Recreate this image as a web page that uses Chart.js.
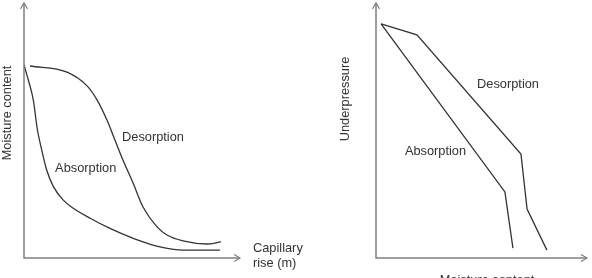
<!DOCTYPE html>
<html>
<head>
<meta charset="utf-8">
<script src="https://cdn.jsdelivr.net/npm/chart.js@4.4.0/dist/chart.umd.min.js"></script>
<style>
  html, body { margin: 0; padding: 0; background: #fff; }
  .wrap { position: relative; width: 592px; height: 278px; overflow: hidden; }
  #left { position: absolute; left: 0; top: 0; }
  #right { position: absolute; left: 296px; top: 0; }
</style>
</head>
<body>
<div class="wrap">
  <canvas id="right"></canvas>
  <canvas id="left"></canvas>
</div>
<script>
// ---- left panel: moisture content vs capillary rise (arbitrary units 0..100) ----
const desCapX = [2.8, 19.9, 29.2, 33.8, 38.4, 42.1, 45.8, 50.5, 55.1, 61.6, 66.2, 73.6, 84.7, 91.2];
const desCapY = [75.3, 72.9, 67.5, 62.0, 54.1, 46.3, 38.4, 29.4, 20.0, 12.2, 9.0, 6.7, 5.5, 6.3];
const absCapX = [0, 2.0, 4.3, 6.2, 8.2, 10.5, 13.6, 18.2, 22.8, 30.6, 39.8, 50.6, 61.4, 73.8, 90.7];
const absCapY = [75.7, 69.8, 62.0, 50.3, 42.4, 34.5, 28.0, 22.7, 19.5, 15.6, 11.6, 7.7, 4.7, 3.1, 3.1];

// ---- right panel: underpressure vs moisture content ----
const desUpX = [2.4, 19.4, 68.7, 71.6, 81.0];
const desUpY = [91.8, 87.5, 40.8, 19.2, 3.1];
const absUpX = [2.4, 61.1, 64.9];
const absUpY = [91.8, 25.9, 3.9];

const FONT = '12.8px "Liberation Sans", Arial, sans-serif';
const INK = '#333';
const AXIS = '#808080';

const pts = (xs, ys) => xs.map((x, i) => ({ x, y: ys[i] }));

// axes with open arrow heads + free text labels
function axesPlugin(labels) {
    return {
        id: 'axes',
        afterDraw(chart) {
            const { ctx, chartArea: a, scales } = chart;
            ctx.save();
            ctx.strokeStyle = AXIS; ctx.lineWidth = 1.5;
            ctx.beginPath();
            ctx.moveTo(a.left, a.top); ctx.lineTo(a.left, a.bottom); ctx.lineTo(a.right, a.bottom);
            ctx.stroke();
            ctx.lineWidth = 1.2;
            ctx.beginPath();
            ctx.moveTo(a.left - 3.5, a.top + 6); ctx.lineTo(a.left, a.top); ctx.lineTo(a.left + 3.5, a.top + 6);
            ctx.moveTo(a.right - 6, a.bottom - 3.5); ctx.lineTo(a.right, a.bottom); ctx.lineTo(a.right - 6, a.bottom + 3.5);
            ctx.stroke();

            ctx.fillStyle = INK; ctx.font = FONT; ctx.textBaseline = 'middle';
            labels.forEach(l => {
                let x = l.px, y = l.py;
                if (l.dx !== undefined) { x = scales.x.getPixelForValue(l.dx); y = scales.y.getPixelForValue(l.dy); }
                ctx.save();
                ctx.translate(x, y);
                if (l.rot) ctx.rotate(-Math.PI / 2);
                ctx.textAlign = l.align || 'left';
                ctx.fillText(l.text, 0, 0);
                ctx.restore();
            });
            ctx.restore();
        }
    };
}

function makeChart(id, w, sets, pad, labels, smooth) {
    const c = document.getElementById(id);
    c.width = w; c.height = 278;
    c.style.width = w + 'px'; c.style.height = '278px';
    return new Chart(c, {
        type: 'line',
        data: {
            datasets: sets.map(s => ({
                data: s,
                borderColor: INK,
                borderWidth: 1.3,
                pointRadius: 0,
                fill: false,
                cubicInterpolationMode: smooth ? 'monotone' : 'default',
                tension: 0
            }))
        },
        options: {
            responsive: false,
            animation: false,
            layout: { padding: pad },
            plugins: { legend: { display: false }, tooltip: { enabled: false } },
            scales: {
                x: { type: 'linear', min: 0, max: 100, display: false },
                y: { type: 'linear', min: 0, max: 100, display: false }
            }
        },
        plugins: [axesPlugin(labels)]
    });
}

makeChart('left', 330,
    [pts(desCapX, desCapY), pts(absCapX, absCapY)],
    { left: 24, right: 90, top: 3, bottom: 20 },
    [
        { text: 'Desorption', dx: 45.4, dy: 47.1 },
        { text: 'Absorption', dx: 14.4, dy: 35.3 },
        { text: 'Moisture content', px: 7, py: 113, rot: true, align: 'center' },
        { text: 'Capillary', px: 253, py: 248 },
        { text: 'rise (m)', px: 253, py: 263 }
    ],
    true);

makeChart('right', 296,
    [pts(desUpX, desUpY), pts(absUpX, absUpY)],
    { left: 80, right: 5, top: 3, bottom: 20 },
    [
        { text: 'Desorption', dx: 47.9, dy: 68.2 },
        { text: 'Absorption', dx: 13.7, dy: 41.6 },
        { text: 'Underpressure', px: 49, py: 99, rot: true, align: 'center' },
        { text: 'Moisture content', px: 191, py: 280, align: 'center' }
    ],
    false);
</script>
</body>
</html>
